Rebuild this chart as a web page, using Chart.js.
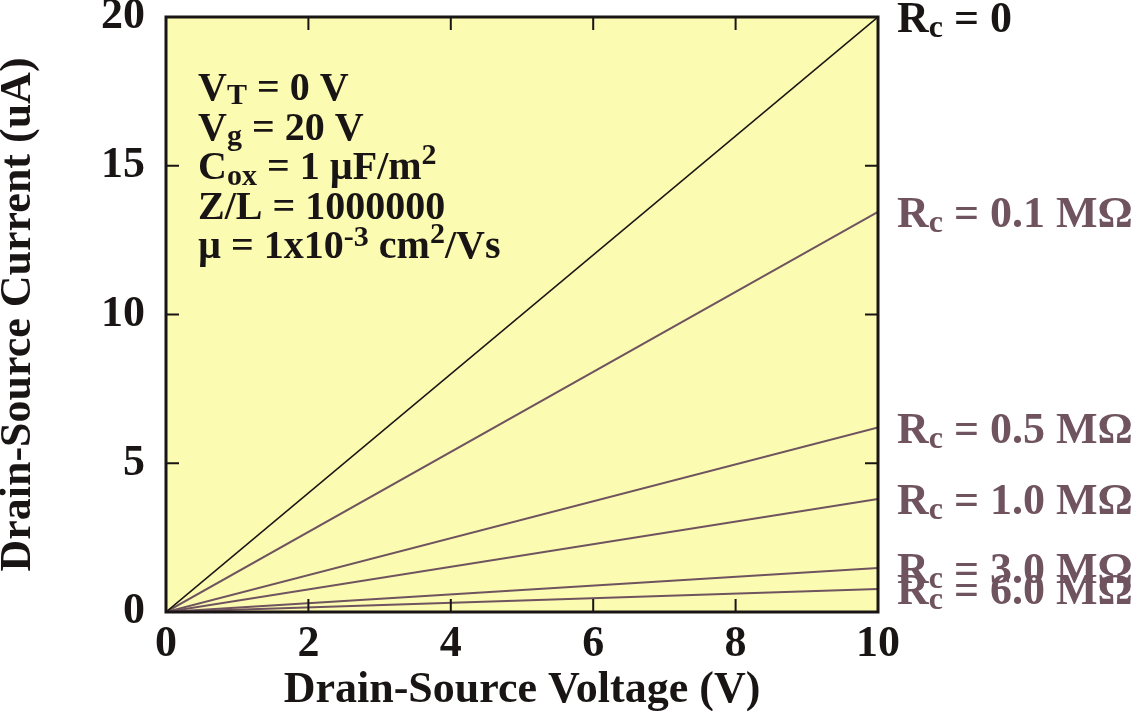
<!DOCTYPE html>
<html lang="en">
<head>
    <meta charset="UTF-8">
    <title>Drain-Source Current vs Voltage</title>
    <script src="https://cdn.jsdelivr.net/npm/chart.js"></script>
    <style>
        html, body { margin: 0; padding: 0; background: #fff; }
        #wrap { width: 1143px; height: 711px; }
    </style>
</head>
<body>
    <div id="wrap"><canvas id="ivChart" width="1143" height="711"></canvas></div>
    <script>
        // values
        const voltages = [0, 10];
        const contactRes = ['0', '0.1 M\u03A9', '0.5 M\u03A9', '1.0 M\u03A9', '3.0 M\u03A9', '6.0 M\u03A9'];
        const current0 = [0, 20];
        const current01 = [0, 13.45];
        const current05 = [0, 6.2];
        const current10 = [0, 3.8];
        const current30 = [0, 1.48];
        const current60 = [0, 0.77];
        const xTicks = [0, 2, 4, 6, 8, 10];
        const yTicks = [0, 5, 10, 15, 20];

        const BLACK = '#1a1515';
        const MAUVE = '#6f535e';
        const YELLOW = '#fbfbb2';
        const FONT = '"Liberation Serif", "Times New Roman", serif';

        const allCurrents = [current0, current01, current05, current10, current30, current60];
        const datasets = allCurrents.map((vals, i) => ({
            label: 'Rc = ' + contactRes[i],
            data: voltages.map((v, j) => ({ x: v, y: vals[j] })),
            borderColor: i === 0 ? BLACK : MAUVE,
            borderWidth: i === 0 ? 1.6 : 2,
            pointRadius: 0,
            fill: false,
            tension: 0
        }));

        // draws a row of text pieces, some raised or lowered
        function drawPieces(ctx, x, y, pieces, color) {
            ctx.fillStyle = color;
            ctx.textBaseline = 'alphabetic';
            ctx.textAlign = 'left';
            pieces.forEach(p => {
                ctx.font = 'bold ' + p.size + 'px ' + FONT;
                ctx.fillText(p.t, x, y + (p.dy || 0));
                x += ctx.measureText(p.t).width;
            });
        }

        const decor = {
            id: 'decor',
            beforeDraw(chart) {
                const a = chart.chartArea;
                const ctx = chart.ctx;
                ctx.save();
                ctx.fillStyle = YELLOW;
                ctx.fillRect(a.left, a.top, a.right - a.left, a.bottom - a.top);
                ctx.restore();
            },
            afterDatasetsDraw(chart) {
                const a = chart.chartArea;
                const ctx = chart.ctx;
                const xs = chart.scales.x, ys = chart.scales.y;
                ctx.save();

                // inward tick marks on all four sides
                ctx.strokeStyle = BLACK;
                ctx.lineWidth = 2;
                ctx.beginPath();
                xTicks.slice(1, -1).forEach(v => {
                    const px = xs.getPixelForValue(v);
                    ctx.moveTo(px, a.bottom); ctx.lineTo(px, a.bottom - 13);
                    ctx.moveTo(px, a.top); ctx.lineTo(px, a.top + 13);
                });
                yTicks.slice(1, -1).forEach(v => {
                    const py = ys.getPixelForValue(v);
                    ctx.moveTo(a.left, py); ctx.lineTo(a.left + 13, py);
                    ctx.moveTo(a.right, py); ctx.lineTo(a.right - 13, py);
                });
                ctx.stroke();

                // frame
                ctx.lineWidth = 3;
                ctx.strokeRect(a.left, a.top, a.right - a.left, a.bottom - a.top);

                // parameter block
                const bx = a.left + 32;
                const by = a.top + 83;
                const step = 39.5;
                const big = 40, small = 30;
                drawPieces(ctx, bx, by, [
                    { t: 'V', size: big }, { t: 'T', size: small, dy: 4 }, { t: ' = 0 V', size: big }
                ], BLACK);
                drawPieces(ctx, bx, by + step, [
                    { t: 'V', size: big }, { t: 'g', size: small, dy: 5 }, { t: ' = 20 V', size: big }
                ], BLACK);
                drawPieces(ctx, bx, by + step * 2, [
                    { t: 'C', size: big }, { t: 'ox', size: small, dy: 6 }, { t: ' = 1 \u00B5F/m', size: big },
                    { t: '2', size: small, dy: -15 }
                ], BLACK);
                drawPieces(ctx, bx, by + step * 3, [
                    { t: 'Z/L = 1000000', size: big }
                ], BLACK);
                drawPieces(ctx, bx, by + step * 4, [
                    { t: '\u00B5 = 1x10', size: big }, { t: '-3', size: small, dy: -12 },
                    { t: ' cm', size: big }, { t: '2', size: small, dy: -15 }, { t: '/Vs', size: big }
                ], BLACK);

                // series labels at the right end of each line
                allCurrents.forEach((vals, i) => {
                    const py = ys.getPixelForValue(vals[vals.length - 1]);
                    drawPieces(ctx, a.right + 19, py + 15, [
                        { t: 'R', size: 44 }, { t: 'c', size: 32, dy: 5 }, { t: ' = ' + contactRes[i], size: 44 }
                    ], i === 0 ? BLACK : MAUVE);
                });
                ctx.restore();
            }
        };

        const tickFont = { family: FONT, size: 44, weight: 'bold' };

        new Chart(document.getElementById('ivChart').getContext('2d'), {
            type: 'line',
            data: { datasets: datasets },
            options: {
                responsive: false,
                animation: false,
                layout: { padding: { left: 0, top: 17, right: 265, bottom: 0 } },
                plugins: { legend: { display: false }, tooltip: { enabled: false } },
                scales: {
                    x: {
                        type: 'linear',
                        min: 0, max: 10,
                        afterFit: s => { s.height = 99; s.paddingLeft = 0; s.paddingRight = 0; },
                        afterBuildTicks: s => { s.ticks = xTicks.map(v => ({ value: v })); },
                        grid: { display: false },
                        border: { display: false },
                        ticks: { font: tickFont, color: BLACK, padding: -2, maxRotation: 0 },
                        title: {
                            display: true,
                            text: 'Drain-Source Voltage (V)',
                            color: BLACK,
                            font: { family: FONT, size: 44, weight: 'bold', lineHeight: 1 },
                            padding: { top: 0, bottom: -2 }
                        }
                    },
                    y: {
                        type: 'linear',
                        min: 0, max: 20,
                        afterFit: s => { s.width = 166; s.paddingTop = 0; s.paddingBottom = 0; },
                        afterBuildTicks: s => { s.ticks = yTicks.map(v => ({ value: v })); },
                        grid: { display: false },
                        border: { display: false },
                        ticks: { font: tickFont, color: BLACK, padding: 13 },
                        title: {
                            display: true,
                            text: 'Drain-Source Current (uA)',
                            color: BLACK,
                            font: { family: FONT, size: 44, weight: 'bold', lineHeight: 1 },
                            padding: { top: -3, bottom: 0 }
                        }
                    }
                }
            },
            plugins: [decor]
        });
    </script>
</body>
</html>
